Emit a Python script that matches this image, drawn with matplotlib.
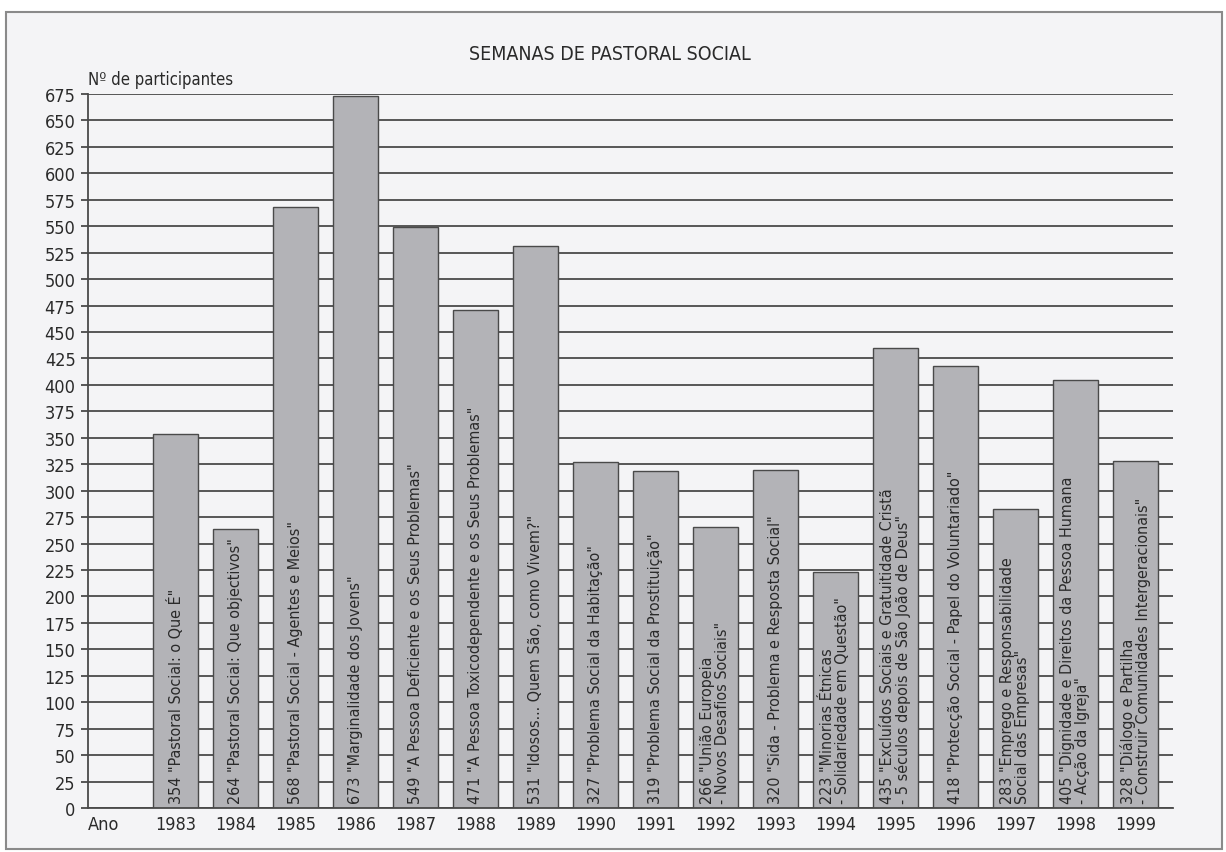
import matplotlib
matplotlib.use("Agg")
import matplotlib.pyplot as plt
from matplotlib.patches import Rectangle


# Données
anos = ["1983", "1984", "1985", "1986", "1987", "1988", "1989", "1990",
        "1991", "1992", "1993", "1994", "1995", "1996", "1997", "1998", "1999"]

participantes = [354, 264, 568, 673, 549, 471, 531, 327,
                 319, 266, 320, 223, 435, 418, 283, 405, 328]

temas = [
    "\"Pastoral Social: o Que É\"",
    "\"Pastoral Social: Que objectivos\"",
    "\"Pastoral Social - Agentes e Meios\"",
    "\"Marginalidade dos Jovens\"",
    "\"A Pessoa Deficiente e os Seus Problemas\"",
    "\"A Pessoa Toxicodependente e os Seus Problemas\"",
    "\"Idosos... Quem São, como Vivem?\"",
    "\"Problema Social da Habitação\"",
    "\"Problema Social da Prostituição\"",
    "\"União Europeia\n- Novos Desafios Sociais\"",
    "\"Sida - Problema e Resposta Social\"",
    "\"Minorias Étnicas\n- Solidariedade em Questão\"",
    "\"Excluídos Sociais e Gratuitidade Cristã\n- 5 séculos depois de São João de Deus\"",
    "\"Protecção Social - Papel do Voluntariado\"",
    "\"Emprego e Responsabilidade\nSocial das Empresas\"",
    "\"Dignidade e Direitos da Pessoa Humana\n- Acção da Igreja\"",
    "\"Diálogo e Partilha\n- Construir Comunidades Intergeracionais\"",
]

y_ticks = list(range(0, 676, 25))


# Police étroite, proche de l'original
plt.rcParams["font.family"] = ["DejaVu Sans"]
plt.rcParams["font.stretch"] = "condensed"

fig = plt.figure(figsize=(12.26, 8.53), dpi=100)
fig.patch.set_facecolor("white")

# Cadre de la figure (axes de fond)
bg = fig.add_axes([0, 0, 1, 1], zorder=-1)
bg.set_xlim(0, 1226)
bg.set_ylim(853, 0)
bg.axis("off")
bg.add_patch(Rectangle(
    (6, 13), 1216, 837,
    facecolor="#f4f4f6", edgecolor="#8a8a8a", linewidth=1.5
))

ax = fig.add_axes([88 / 1226, 1 - 809 / 853, 1085 / 1226, 714 / 853])
ax.set_facecolor("none")

x = [i + 1 for i in range(len(anos))]

ax.bar(
    x,
    participantes,
    width=0.75,
    color="#b3b3b7",
    edgecolor="#4a4a4a",
    linewidth=1.0,
    zorder=2
)

for xi, n, tema in zip(x, participantes, temas):
    ax.text(
        xi, 5, f"{n} {tema}",
        rotation=90, ha="center", va="bottom",
        multialignment="left", linespacing=1.0,
        fontsize=11.5, color="#2a2a2a", zorder=3
    )

ax.set_xlim(-0.458, 17.625)
ax.set_ylim(0, 675)

ax.set_yticks(y_ticks)
ax.set_yticklabels([str(v) for v in y_ticks], fontsize=13, color="#2a2a2a")
ax.yaxis.grid(True, color="#4a4a4a", linewidth=1.3, zorder=1)
ax.set_axisbelow(True)

ax.set_xticks([-0.2] + x)
ax.set_xticklabels(["Ano"] + anos, fontsize=13, color="#2a2a2a")

ax.tick_params(axis="y", length=5, width=1.3, color="#4a4a4a", pad=4)
ax.tick_params(axis="x", length=0, pad=5)

for side in ["top", "right"]:
    ax.spines[side].set_visible(False)
for side in ["left", "bottom"]:
    ax.spines[side].set_color("#4a4a4a")
    ax.spines[side].set_linewidth(1.3)

ax.text(0, 1.008, "Nº de participantes", fontsize=12,
        color="#2a2a2a", ha="left", va="bottom", transform=ax.transAxes)

fig.text(610 / 1226, 1 - 55 / 853, "SEMANAS DE PASTORAL SOCIAL",
         fontsize=14, color="#2a2a2a", ha="center", va="center")

fig.savefig("out.png", dpi=100, facecolor="white")
